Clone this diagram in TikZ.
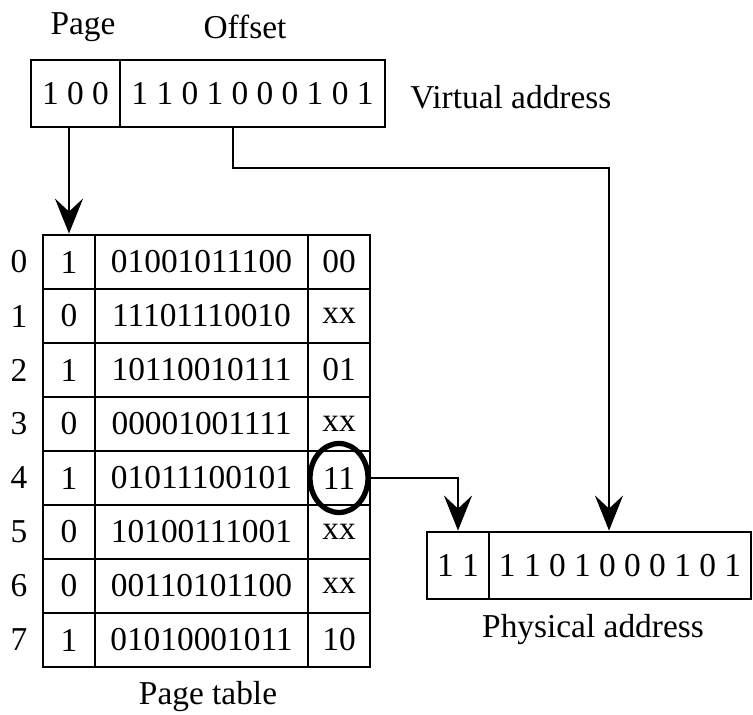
\documentclass[tikz,border=0pt]{standalone}
\usepackage{fontspec}
\setmainfont{Liberation Serif}
\usetikzlibrary{positioning}
\usetikzlibrary{arrows.meta}
\usetikzlibrary{shapes.geometric}

\begin{document}
\begin{tikzpicture}[x=0.02cm, y=-0.02cm,
  every node/.style={font=\fontsize{19}{23}\selectfont, inner sep=0pt},
  cell/.style={draw, line width=1.6pt, minimum height=1.08cm},
  addr/.style={draw, line width=1.6pt, minimum height=1.34cm},
  arr/.style={line width=1.6pt, -{Stealth[length=7mm, width=5.6mm, inset=2.6mm]}}]
  \useasboundingbox (0,0) rectangle (753,715);

  % Virtual address
  \node[addr, minimum width=1.78cm] (vpage) at (75.5,93.5) {1 0 0};
  \node[addr, minimum width=5.3cm] (voff) at (252.5,93.5) {1 1 0 1 0 0 0 1 0 1};
  \node (pagelbl) at (83,27) {Page};
  \node (offlbl) at (245,27) {Offset};
  \node[anchor=west] (vlbl) at (410,97) {Virtual address};

  % Page table rows
  \foreach \i/\v/\f/\p in {0/1/01001011100/00, 1/0/11101110010/xx,
      2/1/10110010111/01, 3/0/00001001111/xx, 4/1/01011100101/11,
      5/0/10100111001/xx, 6/0/00110101100/xx, 7/1/01010001011/10} {
    \node[cell, minimum width=1.04cm] (v\i) at (69,262+54*\i) {\v};
    \node[cell, minimum width=4.26cm] (f\i) at (201.5,262+54*\i) {\f};
    \node[cell, minimum width=1.24cm] (p\i) at (339,262+54*\i) {\p};
    \node (idx\i) at (19,262+54*\i) {\i};
  }
  \node (ptlbl) at (208,697) {Page table};

  % Selected frame
  \node[draw, ellipse, line width=3pt, minimum width=1.16cm, minimum height=1.38cm] (sel) at (p4) {};

  % Physical address
  \node[addr, minimum width=1.24cm] (ppage) at (458,565.5) {1 1};
  \node[addr, minimum width=5.24cm] (poff) at (620,565.5) {1 1 0 1 0 0 0 1 0 1};
  \node (plbl) at (593,630) {Physical address};

  % Connectors
  \coordinate (offtap) at (233,127);
  \coordinate (offbend) at (609,168);
  \draw[arr] (vpage.south -| v0.north) -- (v0.north);
  \draw[arr] (offtap) |- (offbend) -- (offbend |- poff.north);
  \draw[arr] (sel.east) -| (ppage.north);
\end{tikzpicture}
\end{document}
